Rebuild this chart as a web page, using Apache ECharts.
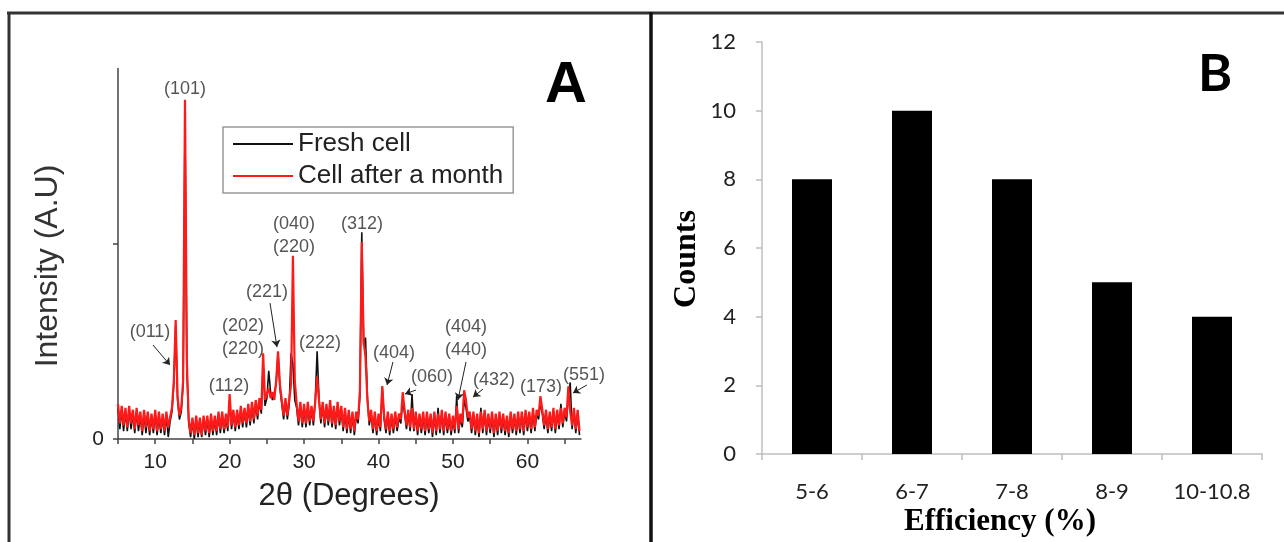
<!DOCTYPE html>
<html><head><meta charset="utf-8">
<script src="https://cdn.jsdelivr.net/npm/echarts@6.0.0/dist/echarts.min.js"></script>
<style>html,body{margin:0;padding:0;background:#fff}#c{width:1284px;height:542px}</style>
</head><body><div id="c"></div>
<script>
// ---------- Panel A: XRD patterns ----------
const twoTheta = [
5,5.25,5.5,5.75,6,6.25,6.5,6.75,
7,7.25,7.5,7.75,8,8.25,8.5,8.75,
9,9.25,9.5,9.75,10,10.25,10.5,10.75,
11,11.25,11.5,11.75,12,12.25,12.5,12.75,
13,13.25,13.5,13.75,14,14.25,14.5,14.75,
15,15.25,15.5,15.75,16,16.25,16.5,16.75,
17,17.25,17.5,17.75,18,18.25,18.5,18.75,
19,19.25,19.5,19.75,20,20.25,20.5,20.75,
21,21.25,21.5,21.75,22,22.25,22.5,22.75,
23,23.25,23.5,23.75,24,24.25,24.5,24.75,
25,25.25,25.5,25.75,26,26.25,26.5,26.75,
27,27.25,27.5,27.75,28,28.25,28.5,28.75,
29,29.25,29.5,29.75,30,30.25,30.5,30.75,
31,31.25,31.5,31.75,32,32.25,32.5,32.75,
33,33.25,33.5,33.75,34,34.25,34.5,34.75,
35,35.25,35.5,35.75,36,36.25,36.5,36.75,
37,37.25,37.5,37.75,38,38.25,38.5,38.75,
39,39.25,39.5,39.75,40,40.25,40.5,40.75,
41,41.25,41.5,41.75,42,42.25,42.5,42.75,
43,43.25,43.5,43.75,44,44.25,44.5,44.75,
45,45.25,45.5,45.75,46,46.25,46.5,46.75,
47,47.25,47.5,47.75,48,48.25,48.5,48.75,
49,49.25,49.5,49.75,50,50.25,50.5,50.75,
51,51.25,51.5,51.75,52,52.25,52.5,52.75,
53,53.25,53.5,53.75,54,54.25,54.5,54.75,
55,55.25,55.5,55.75,56,56.25,56.5,56.75,
57,57.25,57.5,57.75,58,58.25,58.5,58.75,
59,59.25,59.5,59.75,60,60.25,60.5,60.75,
61,61.25,61.5,61.75,62,62.25,62.5,62.75,
63,63.25,63.5,63.75,64,64.25,64.5,64.75,
65,65.25,65.5,65.75,66,66.25,66.5,66.75,
67];

const freshCell = [
.16,.05,.15,.04,.14,.04,.15,.05,
.13,.03,.14,.04,.12,.02,.13,.03,
.12,.02,.11,.03,.13,.02,.12,.03,
.11,.02,.12,.01,.09,.14,.28,.58,
.20,.10,.14,.28,1.62,.36,.08,.01,
.09,.00,.10,.01,.09,.01,.10,.02,
.10,.01,.11,.02,.10,.02,.12,.03,
.12,.03,.11,.04,.20,.05,.13,.04,
.13,.05,.15,.06,.14,.06,.16,.07,
.17,.08,.18,.10,.19,.13,.38,.17,
.21,.35,.24,.20,.19,.28,.44,.26,
.18,.10,.19,.10,.18,.44,.38,.20,
.16,.07,.17,.06,.16,.06,.17,.07,
.15,.07,.20,.45,.21,.08,.17,.06,
.16,.07,.18,.06,.15,.05,.17,.07,
.15,.04,.14,.03,.13,.03,.12,.02,
.12,.08,.22,1.06,.48,.52,.22,.07,
.13,.03,.12,.02,.11,.04,.27,.10,
.03,.12,.02,.11,.03,.12,.04,.11,
.08,.20,.13,.05,.13,.04,.23,.04,
.12,.02,.11,.03,.12,.02,.12,.03,
.11,.01,.12,.02,.16,.03,.13,.02,
.12,.03,.11,.02,.10,.03,.22,.03,
.11,.06,.20,.16,.09,.12,.03,.12,
.02,.11,.01,.16,.03,.13,.02,.11,
.03,.12,.01,.11,.02,.12,.03,.11,
.02,.10,.01,.12,.03,.11,.02,.12,
.03,.12,.02,.13,.04,.12,.03,.14,
.04,.13,.10,.19,.13,.05,.13,.03,
.12,.04,.14,.03,.13,.05,.18,.06,
.14,.09,.22,.29,.05,.14,.03,.13,
.02];

const agedCell = [
.18,.08,.17,.07,.16,.06,.17,.08,
.15,.05,.16,.07,.14,.04,.15,.06,
.14,.04,.13,.05,.15,.04,.14,.05,
.13,.04,.14,.06,.11,.16,.30,.61,
.22,.12,.16,.30,1.74,.40,.10,.03,
.11,.02,.12,.03,.11,.02,.12,.04,
.12,.03,.13,.04,.12,.04,.14,.05,
.14,.05,.13,.06,.23,.07,.15,.06,
.15,.07,.17,.08,.16,.08,.18,.09,
.19,.10,.20,.12,.21,.15,.44,.20,
.19,.26,.21,.24,.20,.30,.45,.28,
.20,.12,.21,.12,.20,.28,.94,.30,
.18,.09,.19,.08,.18,.08,.19,.09,
.17,.09,.19,.32,.20,.10,.19,.08,
.18,.09,.20,.08,.17,.07,.19,.09,
.17,.06,.16,.05,.15,.05,.14,.04,
.14,.10,.25,1.01,.50,.42,.20,.09,
.15,.05,.14,.04,.13,.06,.27,.12,
.05,.14,.04,.13,.05,.14,.06,.13,
.10,.24,.15,.07,.15,.06,.16,.05,
.14,.04,.13,.05,.14,.04,.14,.05,
.13,.03,.14,.04,.13,.05,.15,.04,
.14,.05,.13,.04,.12,.05,.17,.05,
.13,.08,.25,.20,.11,.14,.05,.14,
.04,.13,.03,.14,.05,.15,.04,.13,
.05,.14,.03,.13,.04,.14,.05,.13,
.04,.12,.03,.14,.05,.13,.04,.14,
.05,.14,.04,.15,.06,.14,.05,.16,
.06,.15,.12,.22,.15,.07,.15,.05,
.14,.06,.16,.05,.15,.07,.16,.08,
.16,.11,.27,.14,.07,.16,.05,.15,
.04];

const xrdTickValues = [5,10,15,20,25,30,35,40,45,50,55,60,65];
const xrdTickLabels = [10,20,30,40,50,60];
const intensityTickValues = [0,1];
const intensityTickLabels = [0];

// Miller-index annotations, anchored in (2θ, intensity) data units
const peakLabels = [
  {text:'(101)', at:[14.0,1.795]},
  {text:'(011)', at:[9.3,0.549]},
  {text:'(112)', at:[19.91,0.272]},
  {text:'(202)\n(220)', at:[21.79,0.518]},
  {text:'(221)', at:[25.02,0.754]},
  {text:'(040)\n(220)', at:[28.64,1.044]},
  {text:'(312)', at:[37.78,1.103]},
  {text:'(222)', at:[32.14,0.492]},
  {text:'(404)', at:[42.08,0.441]},
  {text:'(060)', at:[47.18,0.318]},
  {text:'(404)\n(440)', at:[51.75,0.513]},
  {text:'(432)', at:[55.51,0.303]},
  {text:'(173)', at:[61.82,0.267]},
  {text:'(551)', at:[67.6,0.328]}
];
const peakArrows = [
  {from:[9.70,0.482], to:[11.99,0.379]},
  {from:[25.42,0.697], to:[26.36,0.472]},
  {from:[41.94,0.395], to:[41.14,0.277]},
  {from:[45.03,0.251], to:[43.55,0.231]},
  {from:[51.75,0.395], to:[50.67,0.200]},
  {from:[54.03,0.256], to:[52.69,0.215]},
  {from:[68.0,0.277], to:[66.12,0.236]}
];

// ---------- Panel B: efficiency histogram ----------
const efficiencyBins = ['5-6','6-7','7-8','8-9','10-10.8'];
const cellCounts = [8,10,8,5,4];

const SANS = 'Liberation Sans';
const chart = echarts.init(document.getElementById('c'), null, {renderer:'canvas'});
chart.setOption({
  animation:false,
  backgroundColor:'#fff',
  grid:[
    {left:118, top:68.5, width:463, height:370.5, outerBoundsMode:'none'},
    {left:762, top:42, width:500, height:412, outerBoundsMode:'none'}
  ],
  legend:{
    data:[{name:'Fresh cell', icon:'rect'},{name:'Cell after a month', icon:'rect'}],
    orient:'vertical', left:223, top:127,
    itemWidth:60, itemHeight:2, itemGap:4,
    padding:[3,10,3,10],
    borderColor:'#999', borderWidth:1.5, borderRadius:0,
    backgroundColor:'#fff',
    textStyle:{fontFamily:SANS, fontSize:26, color:'#222', lineHeight:28},
    selectedMode:false
  },
  xAxis:[
    {type:'value', gridIndex:0, min:5, max:67.2, splitLine:{show:false},
     axisLine:{show:true, onZero:false, lineStyle:{color:'#444', width:1.5}},
     axisTick:{show:true, customValues:xrdTickValues, length:5, lineStyle:{color:'#444', width:1.5}},
     axisLabel:{show:true, customValues:xrdTickLabels, margin:13, fontFamily:SANS, fontSize:21, color:'#222'}},
    {type:'category', gridIndex:1, data:efficiencyBins,
     axisLine:{show:true, lineStyle:{color:'#bfbfbf', width:1.5}},
     axisTick:{show:true, length:6, interval:0, lineStyle:{color:'#bfbfbf', width:1.5}},
     axisLabel:{interval:0, hideOverlap:false, margin:27, fontFamily:'Lato', fontSize:22, color:'#222'}}
  ],
  yAxis:[
    {type:'value', gridIndex:0, min:0, max:1.9, splitLine:{show:false},
     axisLine:{show:true, onZero:false, lineStyle:{color:'#444', width:1.5}},
     axisTick:{show:true, customValues:intensityTickValues, length:5, lineStyle:{color:'#444', width:1.5}},
     axisLabel:{show:true, customValues:intensityTickLabels, margin:14, fontFamily:SANS, fontSize:21, color:'#222'}},
    {type:'value', gridIndex:1, min:0, max:12, interval:2, splitLine:{show:false},
     axisLine:{show:true, lineStyle:{color:'#bfbfbf', width:1.5}},
     axisTick:{show:true, length:6, lineStyle:{color:'#bfbfbf', width:1.5}},
     axisLabel:{margin:26, fontFamily:'Lato', fontSize:22, color:'#222', padding:[6,0,0,0]}}
  ],
  series:[
    {name:'Fresh cell', type:'line', xAxisIndex:0, yAxisIndex:0,
     data:twoTheta.map((t,i)=>[t,freshCell[i]]),
     symbol:'none', showSymbol:false, color:'#111',
     lineStyle:{color:'#111', width:1.6}, itemStyle:{color:'#111'}, z:2, silent:true},
    {name:'Cell after a month', type:'line', xAxisIndex:0, yAxisIndex:0,
     data:twoTheta.map((t,i)=>[t,agedCell[i]]),
     symbol:'none', showSymbol:false, color:'#ff1a1a',
     lineStyle:{color:'#ff1a1a', width:2.2}, itemStyle:{color:'#ff1a1a'}, z:3, silent:true},
    {type:'scatter', xAxisIndex:0, yAxisIndex:0, clip:false, silent:true, z:5,
     data:peakLabels.map(p=>({name:p.text, value:p.at})),
     symbolSize:1, itemStyle:{color:'rgba(0,0,0,0)'},
     label:{show:true, position:'inside', formatter:p=>p.name,
            fontFamily:SANS, fontSize:18, lineHeight:23, color:'#2a2a2a'}},
    {type:'lines', coordinateSystem:'cartesian2d', xAxisIndex:0, yAxisIndex:0, clip:false, silent:true, z:5,
     data:peakArrows.map(a=>({coords:[a.from,a.to]})),
     symbol:['none','arrow'], symbolSize:7,
     lineStyle:{color:'#222', width:1, opacity:1}},
    {type:'bar', xAxisIndex:1, yAxisIndex:1, data:cellCounts, barWidth:40,
     itemStyle:{color:'#000'}, silent:true}
  ],
  graphic:[
    {type:'line', shape:{x1:7,y1:13,x2:1284,y2:13}, style:{stroke:'#333', lineWidth:3}},
    {type:'line', shape:{x1:9,y1:12,x2:9,y2:542}, style:{stroke:'#333', lineWidth:3}},
    {type:'line', shape:{x1:651,y1:12,x2:651,y2:542}, style:{stroke:'#111', lineWidth:3.5}},
    {type:'text', x:566, y:86, style:{text:'A', font:'bold 58px "Liberation Sans"', fill:'#000', align:'center', verticalAlign:'middle'}},
    {type:'text', x:1215, y:74, style:{text:'B', font:'bold 52px Lato', fill:'#000', align:'center', verticalAlign:'middle'}},
    {type:'text', x:48, y:266, rotation:Math.PI/2, style:{text:'Intensity (A.U)', font:'32px "Liberation Sans"', fill:'#333', align:'center', verticalAlign:'middle'}},
    {type:'text', x:349, y:496, style:{text:'2θ (Degrees)', font:'31px "Liberation Sans"', fill:'#222', align:'center', verticalAlign:'middle'}},
    {type:'text', x:687, y:259, rotation:Math.PI/2, style:{text:'Counts', font:'bold 32px "Liberation Serif"', fill:'#000', align:'center', verticalAlign:'middle'}},
    {type:'text', x:1000, y:522, style:{text:'Efficiency (%)', font:'bold 31px "Liberation Serif"', fill:'#000', align:'center', verticalAlign:'middle'}}
  ]
});
</script>
</body></html>
